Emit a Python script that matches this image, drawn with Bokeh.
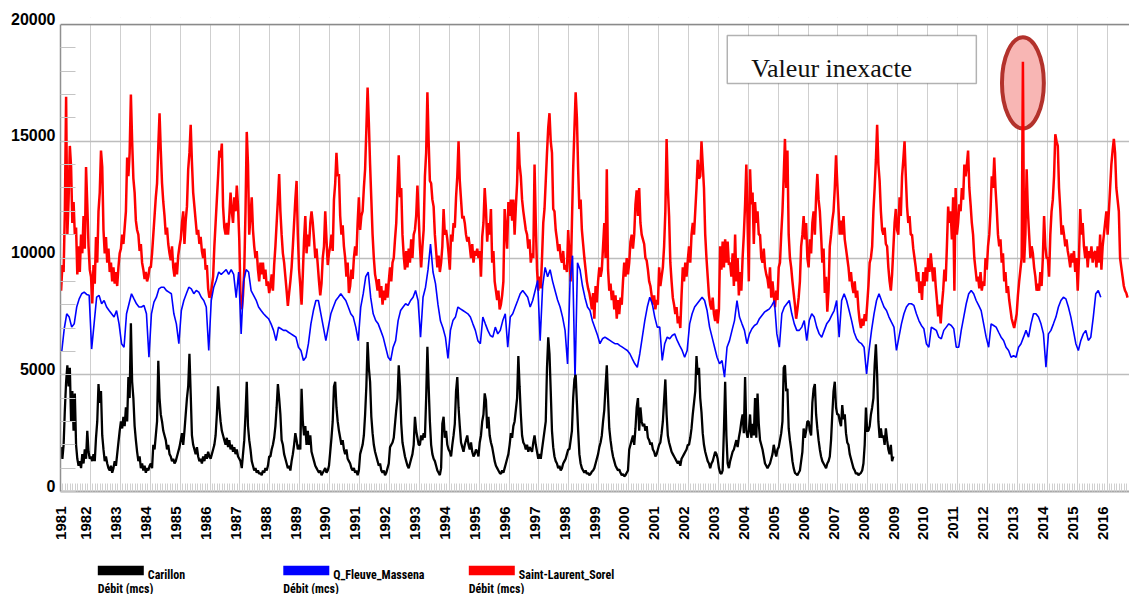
import numpy as np
from bokeh.plotting import figure
from bokeh.models import (Range1d, FixedTicker, CustomJSTickFormatter, Label,
                          Span, BoxAnnotation, LinearAxis)
from bokeh.layouts import column
from bokeh.embed import file_html
from bokeh.resources import INLINE
from bokeh.core.properties import value

# ---------------- data ----------------
START_YEAR = 1981
year_ticks = list(range(1981, 2017))
value_ticks = [0, 5000, 10000, 15000, 20000]
series_names = ["Carillon", "Q_Fleuve_Massena", "Saint-Laurent_Sorel"]
series_colors = ["#000000", "#0000ff", "#ff0000"]
unit_label = "Débit (mcs)"
note_text = "Valeur inexacte"

# Saint-Laurent at Sorel, discharge (m3/s), two readings per month from Jan 1981
sorel_flow = [
    8600, 9700, 9400, 12000, 16900, 11000, 12500, 14800, 13900, 11500, 12400, 11000, 11300, 9300, 10500, 9400, 11000, 10200, 11800, 10400, 13900, 12300, 10500, 9500,
    9200, 8050, 9700, 8900, 10900, 9800, 12000, 12800, 14600, 13900, 11200, 10200, 10900, 9800, 10400, 9400, 9800, 9000, 9600, 8900, 9400, 8800, 9600, 10200,
    10400, 11000, 10600, 11300, 12000, 14300, 13500, 14500, 17000, 15000, 13400, 12800, 11600, 11200, 11000, 10300, 10600, 9800, 9500, 9100, 9400, 9000, 9200, 9600,
    9600, 10200, 11000, 11800, 12600, 13200, 14800, 16200, 14600, 13200, 12400, 11800, 11000, 11300, 10600, 10200, 9900, 10500, 9600, 9200, 9800, 9300, 10100, 10500,
    10800, 11500, 12000, 10600, 11600, 12200, 13800, 14500, 15700, 14100, 12800, 12200, 11600, 11000, 11200, 10600, 10900, 10300, 10000, 10400, 9500, 9700, 8700, 8300,
    8400, 8800, 9200, 10500, 11500, 12500, 13500, 14600, 14300, 14900, 12200, 11300, 11000, 11500, 11000, 11800, 12800, 12000, 11500, 12600, 12000, 13100, 12200, 10800,
    8300, 7800, 8400, 9500, 12000, 15400, 14000, 11000, 11800, 12600, 11200, 10500, 10000, 10300, 9500, 9000, 9800, 9300, 9800, 9100, 9500, 8800, 9000, 8500,
    8800, 9300, 8600, 9700, 10500, 11500, 12500, 13600, 12000, 11000, 10200, 9800, 9200, 8600, 7950, 8500, 9000, 9600, 10500, 11500, 12500, 13300, 11000, 9500,
    8800, 8000, 9300, 10800, 11800, 10200, 11000, 10500, 11500, 12000, 11500, 10800, 10000, 10400, 9700, 9000, 8400, 8900, 10000, 10500, 12000, 10800, 9700, 10200,
    10500, 11000, 10300, 12500, 13200, 14500, 13500, 13600, 11800, 11000, 11400, 10500, 10000, 9200, 9800, 8500, 8800, 9500, 9100, 10000, 10500, 10100, 11500, 12600,
    11200, 11800, 12000, 13000, 13800, 15500, 17300, 15800, 14000, 12500, 11000, 10000, 9300, 9000, 8600, 9100, 8300, 8800, 8000, 8600, 8200, 8900, 8300, 9000,
    9600, 9000, 9800, 10000, 10800, 11500, 13000, 14400, 12600, 13000, 11000, 10100, 9500, 10300, 9600, 10400, 9800, 10800, 10000, 11000, 11200, 11800, 13100, 11800,
    10500, 9600, 10500, 11200, 13500, 14500, 17100, 15000, 13300, 13200, 12500, 12200, 11000, 10300, 9600, 10100, 9400, 9800, 10500, 12100, 11000, 11200, 10800, 10200,
    9500, 11000, 10700, 11500, 11300, 12600, 13500, 15000, 13300, 12500, 11700, 11800, 11500, 11000, 10700, 10900, 10500, 10000, 10600, 9800, 10300, 10100, 10400, 10000,
    10300, 9200, 10900, 11500, 13000, 12100, 10700, 11500, 11000, 12100, 9800, 10300, 9000, 8600, 8200, 8600, 7800, 8000, 8400, 9000, 12100, 11200, 10400, 12400,
    11800, 12500, 11600, 12500, 11000, 12200, 13200, 15400, 14000, 13500, 12500, 12000, 11600, 11200, 11000, 10400, 10800, 9800, 10200, 10000, 14000, 11500, 9500, 8600,
    9200, 8700, 10000, 11500, 12100, 13300, 14500, 15600, 16200, 15000, 14500, 12100, 12000, 11200, 10800, 10300, 10600, 10000, 9800, 10300, 9500, 9700, 9400, 11200,
    10100, 9000, 11500, 13800, 15500, 17100, 16000, 13800, 12100, 12500, 11200, 10600, 10000, 9500, 9000, 8700, 8500, 8200, 7800, 8500, 7400, 8800, 8100, 9000,
    9600, 9200, 9500, 10500, 11500, 10000, 13800, 9500, 8600, 8900, 8200, 8600, 7800, 8400, 7400, 8200, 7600, 8300, 8000, 9000, 9800, 9200, 10000, 9300,
    9800, 10700, 11000, 10400, 11000, 12300, 12900, 11800, 13000, 11500, 11000, 10800, 10600, 10000, 9900, 9500, 9000, 8800, 8400, 8000, 8400, 7800, 8200, 8000,
    9600, 8800, 9200, 9600, 10500, 12000, 15100, 13000, 11800, 9800, 9000, 8300, 8000, 7600, 7900, 7200, 7500, 7000, 8400, 9600, 9000, 9800, 9200, 9900,
    10500, 9800, 11000, 11500, 11000, 12000, 13000, 14200, 13400, 13500, 15000, 14000, 13000, 11000, 10000, 9200, 8400, 8000, 7800, 8300, 7600, 7300, 7800, 7200,
    7800, 10500, 9500, 10700, 9600, 10800, 9800, 10700, 9700, 9800, 9200, 10200, 8800, 11000, 9000, 10000, 8400, 9400, 8600, 10000, 11000, 12300, 14000, 11500,
    9000, 13800, 12300, 12800, 10600, 12400, 11500, 12000, 11000, 11000, 10000, 9800, 10400, 9600, 9300, 9100, 8700, 9600, 8300, 9000, 8400, 7900, 8600, 8200,
    9600, 9800, 11000, 12000, 13500, 15100, 13000, 14600, 11000, 10000, 9600, 9000, 8500, 8000, 7400, 7800, 8300, 9000, 10500, 11000, 11800, 10800, 11500, 10000,
    9600, 10800, 10200, 11500, 12000, 11000, 12600, 13600, 12500, 12000, 11000, 9800, 10400, 8500, 9200, 7700, 8600, 10500, 11000, 11600, 12000, 13000, 14400, 13200,
    12100, 11000, 11600, 11000, 11800, 10800, 10400, 10000, 9600, 9000, 9400, 8800, 8500, 9000, 8300, 8600, 7800, 7300, 7000, 7400, 7100, 7600, 7300, 8000,
    8800, 9800, 10000, 10500, 12000, 13000, 14200, 15700, 14000, 13300, 12000, 11200, 11000, 11300, 10600, 10500, 9600, 9000, 8600, 9300, 10400, 11500, 12100, 11200,
    11000, 12600, 11800, 13500, 14200, 15000, 13500, 12200, 11500, 11800, 11000, 11000, 10400, 10000, 9600, 9000, 9400, 8500, 9000, 8200, 9400, 8800, 9600, 9000,
    10000, 9400, 10200, 9600, 9000, 9600, 8800, 8200, 7500, 8000, 7200, 8000, 8600, 9500, 9000, 10500, 12200, 11500, 12000, 10800, 12600, 8600, 13000, 11000,
    11500, 12300, 12000, 13000, 12500, 14000, 13500, 14000, 14600, 13000, 12300, 11500, 11000, 10000, 9500, 9000, 9200, 8700, 9400, 8600, 9000, 8800, 10000, 9500,
    10500, 11000, 12000, 13500, 13000, 14300, 13000, 12100, 11000, 10500, 10800, 9800, 10200, 9000, 9400, 8500, 8800, 8200, 7800, 7400, 7200, 7000, 7300, 7600,
    8400, 9000, 9500, 10000, 18400, 9800, 11000, 13800, 12000, 11000, 10000, 10500, 10200, 9600, 9200, 8600, 8900, 8600, 9400, 8800, 10000, 11800, 10500, 10000,
    10000, 9200, 11000, 12000, 12500, 13500, 15300, 15000, 14800, 13000, 12100, 11000, 11400, 11000, 10500, 10800, 10300, 10000, 9600, 10200, 9800, 10300, 9400, 10000,
    8600, 10000, 12100, 11000, 11500, 10500, 10000, 10500, 9600, 10300, 10000, 10500, 9800, 10200, 10300, 9600, 10500, 9800, 11000, 9500, 10500, 11000, 11500, 12000,
    11000, 12000, 13000, 14000, 14600, 15100, 14500, 13000, 12500, 12000, 10000, 9600, 9200, 8800, 8600, 8500, 8300,
]

# Fleuve at Massena, discharge (m3/s), one reading per month from Jan 1981
massena_flow = [
    6000, 6970, 7610, 7470, 7040, 7180, 7900, 8250, 8470, 8540, 8440, 8400,
    6100, 7200, 8320, 8400, 8040, 8180, 7900, 7750, 7610, 7470, 7750, 7180,
    6330, 6180, 7610, 8040, 8470, 8250, 8040, 7900, 7900, 7970, 7610, 5750,
    7610, 8110, 8320, 8680, 8750, 8750, 8610, 8540, 8470, 7610, 7180, 6330,
    7750, 8180, 8470, 8750, 8680, 8470, 8610, 8540, 8320, 8180, 7900, 6040,
    8180, 8750, 9040, 9400, 9300, 9400, 9500, 9300, 9500, 9300, 8300, 9400,
    6750, 9000, 9500, 9400, 8600, 8400, 8200, 7900, 7750, 7610, 7500, 7400,
    7180, 6900, 6460, 7040, 6970, 6900, 6900, 6820, 6750, 6680, 6610, 6180,
    6040, 5610, 5750, 6330, 7180, 7750, 8180, 8180, 7610, 7040, 6460, 7040,
    7610, 7900, 8180, 8320, 8470, 8320, 8180, 7900, 7610, 7470, 7040, 6460,
    7900, 8470, 9200, 9400, 8300, 7610, 7320, 7180, 6900, 6610, 6180, 5750,
    5610, 6180, 6460, 7320, 7750, 7900, 8040, 7970, 8180, 8320, 8610, 8180,
    6610, 8320, 8750, 9500, 10600, 9400, 8900, 8000, 7300, 7000, 6600, 5700,
    6900, 7320, 7470, 7900, 7820, 7750, 7680, 7610, 7470, 7180, 6900, 6460,
    6330, 7470, 7180, 6900, 6680, 6610, 7040, 6750, 6900, 7320, 7610, 6180,
    7470, 7610, 7900, 8180, 8470, 8610, 8470, 8320, 7900, 8180, 8610, 9040,
    6460, 8800, 9600, 9200, 9500, 9000, 8600, 8200, 7900, 7470, 6900, 5460,
    9000, 10100, 4750, 9800, 9500, 8800, 8300, 7900, 7750, 7300, 7000, 6700,
    6330, 6540, 6610, 6540, 6470, 6400, 6330, 6330, 6250, 6180, 6110, 6040,
    5900, 5680, 5470, 5320, 5900, 6610, 7320, 7900, 8320, 8040, 7470, 7040,
    7040, 5610, 6330, 6610, 6540, 6680, 6750, 6470, 6250, 6040, 5750, 6040,
    7180, 7610, 7900, 8040, 8180, 8320, 8180, 7750, 7040, 6610, 6180, 5750,
    5470, 5610, 4900, 6180, 6460, 6900, 7320, 8180, 7470, 7180, 6900, 6330,
    6750, 6970, 7110, 7180, 7400, 7540, 7680, 7750, 7820, 7970, 8180, 6750,
    6180, 7610, 7900, 8040, 8180, 7610, 7180, 6900, 6900, 7040, 7320, 6460,
    7320, 7610, 7470, 7040, 6750, 6610, 6900, 7180, 7320, 7540, 7750, 8180,
    6610, 8180, 8470, 8180, 7750, 7320, 6820, 6540, 6400, 6330, 6180, 5040,
    6040, 6900, 7610, 8180, 8470, 8180, 7900, 7750, 7470, 7250, 7040, 6040,
    6610, 7180, 7610, 7900, 8040, 8040, 7970, 7610, 7320, 7110, 6970, 6330,
    6180, 7040, 6970, 6900, 6610, 6540, 6900, 7040, 7180, 7110, 6970, 6180,
    6180, 6900, 7470, 8040, 8470, 8610, 8470, 8180, 7970, 7750, 7180, 6610,
    6180, 7180, 7110, 7040, 6820, 6610, 6470, 6180, 6040, 5750, 5820, 5750,
    6180, 6330, 6610, 6900, 6610, 7180, 7610, 7610, 7470, 7180, 6750, 5320,
    6750, 6900, 7180, 7470, 7900, 8180, 8320, 8250, 7900, 7470, 6900, 6330,
    6040, 6470, 6750, 6900, 6470, 6610, 7470, 8470, 8610, 8320,
]

# Carillon, discharge (m3/s), two readings per month from Jan 1981
carillon_flow = [
    1900, 1400, 2000, 3500, 4700, 5400, 4500, 5300, 3000, 4300, 2600, 4200, 2000, 1400, 1100, 1300, 1000, 1600, 1200, 1800, 1400, 2600, 1700, 1400,
    1500, 1300, 1600, 1300, 2300, 3000, 4600, 3800, 4300, 2400, 1800, 1300, 1500, 1200, 1000, 900, 1100, 800, 1000, 1300, 1100, 1600, 2100, 2600,
    3000, 2700, 3200, 2800, 3600, 3000, 4900, 4000, 7200, 4700, 4000, 2800, 2200, 1700, 1300, 1500, 1000, 1200, 900, 1100, 800, 1000, 900, 1100,
    1200, 1000, 2000, 1800, 2400, 3000, 5600, 4000, 3300, 3000, 2600, 2400, 2200, 1800, 2000, 1600, 1500, 1300, 1400, 1200, 1300, 1500, 1700, 1900,
    2200, 2500, 2000, 2600, 3300, 4000, 4500, 5900, 4200, 2400, 2000, 1800, 1600, 1900, 1500, 1300, 1400, 1200, 1500, 1300, 1600, 1400, 1700, 1500,
    1400, 1600, 1800, 2000, 2400, 3300, 4500, 3600, 3000, 2600, 2400, 2200, 2000, 2300, 1900, 2200, 1800, 2000, 1700, 1900, 1600, 1800, 1500, 1400,
    1300, 1000, 1600, 2200, 3300, 4700, 2800, 2200, 1800, 1300, 1100, 900, 1000, 800, 900, 750, 800, 700, 900, 800, 1000, 900, 1100, 1500,
    1500, 1800, 2000, 2300, 2800, 3600, 4600, 4000, 3300, 2200, 2000, 1600, 1400, 1200, 1000, 1100, 900, 1300, 1600, 2000, 2500, 2200, 1800, 2000,
    1800, 4400, 3000, 2400, 2800, 2000, 2600, 2000, 2400, 1700, 1500, 1300, 1100, 1000, 900, 800, 900, 700, 800, 900, 1000, 800, 900, 1100,
    1700, 2300, 3000, 4500, 4700, 3600, 3000, 2600, 2300, 2000, 2200, 1800, 1600, 1800, 1400, 1300, 1200, 1000, 900, 1000, 800, 900, 700, 900,
    1600, 1800, 2000, 2400, 3300, 4500, 6400, 5300, 4700, 3200, 2500, 2000, 1700, 1500, 1300, 1100, 1200, 900, 800, 900, 700, 800, 1000, 1200,
    1900, 2000, 2100, 2300, 2900, 3500, 4000, 5400, 4500, 2900, 2100, 1800, 1500, 1300, 1100, 1000, 1200, 1400, 1600, 2000, 3200, 2600, 2300, 2000,
    2000, 2400, 2200, 2500, 2300, 4000, 6200, 4500, 3000, 2000, 1600, 1400, 1300, 1100, 900, 800, 700, 1000, 2900, 3200, 2300, 2600, 2000, 1800,
    1700, 1500, 2000, 2400, 2900, 4300, 4900, 3600, 2800, 2100, 1900, 1700, 2000, 2200, 2400, 2000, 1800, 2100, 1700, 1500, 1600, 1800, 1700, 1500,
    2100, 2400, 3000, 3300, 4200, 3900, 2700, 3200, 2400, 2100, 1900, 1600, 1300, 1100, 1000, 900, 800, 750, 900, 800, 1000, 1200, 1400, 1600,
    2000, 2500, 2300, 2800, 3000, 3500, 4000, 5800, 4500, 3300, 2400, 2100, 2000, 1800, 2000, 1700, 1900, 1800, 1700, 2100, 2400, 2000, 1700, 1400,
    1600, 1400, 1800, 2200, 2600, 3000, 5300, 6600, 5900, 4300, 2600, 1900, 1500, 1300, 1200, 1000, 1100, 900, 1000, 1200, 1300, 1400, 1600, 1800,
    1800, 2200, 2600, 4000, 4800, 5000, 3800, 2600, 1600, 1200, 1000, 900, 800, 900, 750, 800, 700, 750, 850, 900, 1000, 1200, 1400, 1600,
    1900, 2100, 2400, 3000, 3500, 4500, 5400, 4000, 2700, 2200, 1800, 1500, 1300, 1100, 1000, 900, 950, 800, 700, 750, 650, 700, 800, 900,
    1800, 2000, 2200, 2400, 2000, 2700, 3600, 4000, 2600, 3600, 3000, 2800, 2900, 2600, 2800, 2300, 2200, 2000, 2100, 1800, 1700, 1500, 1600, 1800,
    2000, 2100, 2500, 3000, 3900, 4800, 3300, 2400, 2100, 1900, 1700, 1600, 1500, 1400, 1300, 1200, 1300, 1100, 1400, 1500, 1600, 1700, 1800, 2000,
    2000, 2300, 2700, 3300, 3800, 4300, 5800, 5000, 5300, 4000, 3400, 2500, 2000, 1700, 1500, 1300, 1200, 1000, 1200, 1300, 1500, 1700, 1600, 1400,
    1000, 800, 750, 900, 2600, 4700, 2400, 1200, 1000, 1300, 1500, 1700, 1800, 2000, 2200, 1900, 2300, 2600, 3000, 3300, 2500, 4900, 2600, 2300,
    2600, 3300, 2300, 2900, 2400, 4000, 2300, 4200, 2900, 2200, 2000, 1800, 1500, 1200, 1100, 1000, 1100, 1200, 1400, 1600, 2000, 1700, 1500, 1800,
    1900, 2200, 2500, 3000, 5300, 5400, 4300, 4400, 2700, 2200, 1800, 1300, 1000, 800, 750, 700, 800, 900, 1300, 1700, 2700, 2300, 2600, 3000,
    3000, 2600, 2400, 3800, 4400, 4600, 3300, 2700, 2200, 1800, 1500, 1300, 1200, 1100, 1000, 1200, 1300, 1500, 2200, 3300, 4300, 4700, 3600, 3300,
    3300, 3000, 2800, 3700, 3100, 3300, 2500, 2100, 2000, 1600, 1400, 1200, 1000, 900, 750, 800, 700, 750, 800, 900, 1200, 2000, 3600, 2600,
    2600, 2800, 3300, 3600, 4000, 5400, 6300, 5000, 3000, 2300, 2700, 2300, 2400, 2000, 2700, 2200, 1800, 1600, 2000, 1300, 1500,
]

# ---------------- time axes (decimal years) ----------------
t_sorel = START_YEAR + (np.arange(len(sorel_flow)) + 0.5) / 24.0
t_massena = START_YEAR + (np.arange(len(massena_flow)) + 0.5) / 12.0
t_carillon = START_YEAR + (np.arange(len(carillon_flow)) + 0.5) / 24.0

# ---------------- main figure ----------------
W = 1129
LEFT = 60
PX_PER_YEAR = 29.9
UNITS_PER_PX = 20000 / 467.0           # value units per pixel
FRAME_TOP_PAD = 7                      # px of frame above the 20000 line
x_end = START_YEAR + (W - LEFT) / PX_PER_YEAR
y_end = 20000 + FRAME_TOP_PAD * UNITS_PER_PX
LABEL_LIFT = 6 * UNITS_PER_PX          # value labels sit on their grid line

p = figure(width=W, height=545, output_backend="svg", toolbar_location=None,
           x_range=Range1d(START_YEAR, x_end), y_range=Range1d(0, y_end),
           min_border_left=LEFT, min_border_right=0, min_border_top=17,
           min_border_bottom=54)
p.outline_line_color = None
p.background_fill_color = "white"
p.border_fill_color = "white"

# grids
p.xgrid.ticker = FixedTicker(ticks=year_ticks)
p.xgrid.grid_line_color = "#cfcfcf"
p.xgrid.grid_line_width = 1
p.ygrid.ticker = FixedTicker(ticks=value_ticks)
p.ygrid.grid_line_color = "#bdbdbd"
p.ygrid.grid_line_width = 1.5

# x axis: rotated year labels, monthly minor ticks
xa = p.xaxis[0]
xa.ticker = FixedTicker(ticks=[float(year_ticks[0])] + [y - 0.14 for y in year_ticks[1:]],
                        minor_ticks=[START_YEAR + k / 12.0 for k in range(36 * 12)])
xa.formatter = CustomJSTickFormatter(code="return String(Math.round(tick));")
xa.major_label_orientation = np.pi / 2
xa.major_label_text_font = "Liberation Sans"
xa.major_label_text_font_style = "bold"
xa.major_label_text_font_size = "15px"
xa.major_label_text_color = "black"
xa.major_label_standoff = 15
xa.major_tick_in = 0
xa.major_tick_out = 0
xa.minor_tick_in = 8
xa.minor_tick_out = 0
xa.minor_tick_line_color = "#d0d0d0"
xa.axis_line_color = "#a8a8a8"
xa.axis_line_width = 2

# y axis line with 1000-step inner ticks
ya = p.yaxis[0]
ya.ticker = FixedTicker(ticks=[], minor_ticks=list(range(0, 20001, 1000)))
ya.bounds = (0, 20000)
ya.major_label_standoff = 0
ya.major_tick_in = 0
ya.major_tick_out = 0
ya.minor_tick_in = 15
ya.minor_tick_out = 0
ya.minor_tick_line_color = "#c4c4c4"
ya.axis_line_color = "#909090"
ya.axis_line_width = 1.5

# value labels: second axis whose range is lifted so labels sit on the lines
p.extra_y_ranges = {"labels": Range1d(-LABEL_LIFT, y_end - LABEL_LIFT)}
ylab = LinearAxis(y_range_name="labels", ticker=FixedTicker(ticks=value_ticks))
ylab.axis_line_color = None
ylab.major_tick_line_color = None
ylab.minor_tick_line_color = None
ylab.major_label_standoff = -1
ylab.major_label_text_font = "Liberation Sans"
ylab.major_label_text_font_style = "bold"
ylab.major_label_text_font_size = "16px"
ylab.major_label_text_color = "black"
p.add_layout(ylab, "left")

# white strip above the top line, then the top line itself
p.add_layout(BoxAnnotation(bottom=20000, fill_color="white", fill_alpha=1.0, line_color=None))
p.add_layout(Span(location=20000, dimension="width", line_color="#8a8a8a", line_width=1.5))

# highlight of the doubtful value (under the lines)
i_max = int(np.argmax(sorel_flow))
p.ellipse(x=[t_sorel[i_max]], y=[sorel_flow[i_max] - 900], width=1.4, height=3900,
          fill_color="#f8b6b4", line_color="#b3322c", line_width=4)

# series
p.line(t_sorel, sorel_flow, line_color=series_colors[2], line_width=2.5)
p.line(t_massena, massena_flow, line_color=series_colors[1], line_width=1.6)
p.line(t_carillon, carillon_flow, line_color=series_colors[0], line_width=2.3)

# note box
p.add_layout(BoxAnnotation(left=2003.30, right=2011.63, bottom=17475, top=19530,
                           fill_color="white", fill_alpha=1.0,
                           line_color="black", line_width=1.5))
p.add_layout(Label(x=2004.10, y=18116, text=note_text, text_align="left",
                   text_baseline="alphabetic", text_font="Liberation Serif",
                   text_font_size="26px", text_color="#111111"))

# ---------------- legend strip (data units = page pixels) ----------------
LH = 49
leg = figure(width=W, height=LH, output_backend="svg", toolbar_location=None,
             x_range=Range1d(LEFT, W), y_range=Range1d(LH, 0),
             min_border_left=LEFT, min_border_right=0, min_border_top=0,
             min_border_bottom=0, x_axis_location=None, y_axis_location=None)
leg.outline_line_color = None
leg.background_fill_color = "white"
leg.border_fill_color = "white"
leg.grid.grid_line_color = None

legend_font = value("'Roboto Condensed', 'DejaVu Sans Condensed', 'Liberation Sans', sans-serif")
swatch_left = [97.3, 282.8, 468.3]
leg.rect(x=[s + 23 for s in swatch_left], y=[25.0] * 3, width=46, height=9.3,
         fill_color=series_colors, line_color=None)
leg.text(x=[s + 50 for s in swatch_left], y=[29.8] * 3, text=series_names,
         text_font=legend_font, text_font_style="bold",
         text_font_size="12px", text_baseline="alphabetic", text_color="black")
leg.text(x=swatch_left, y=[43.0] * 3, text=[unit_label] * 3,
         text_font=legend_font, text_font_style="bold", text_font_size="12px",
         text_baseline="alphabetic", text_color="black")

layout = column(p, leg)
open("out.html", "w").write(file_html(layout, INLINE))
